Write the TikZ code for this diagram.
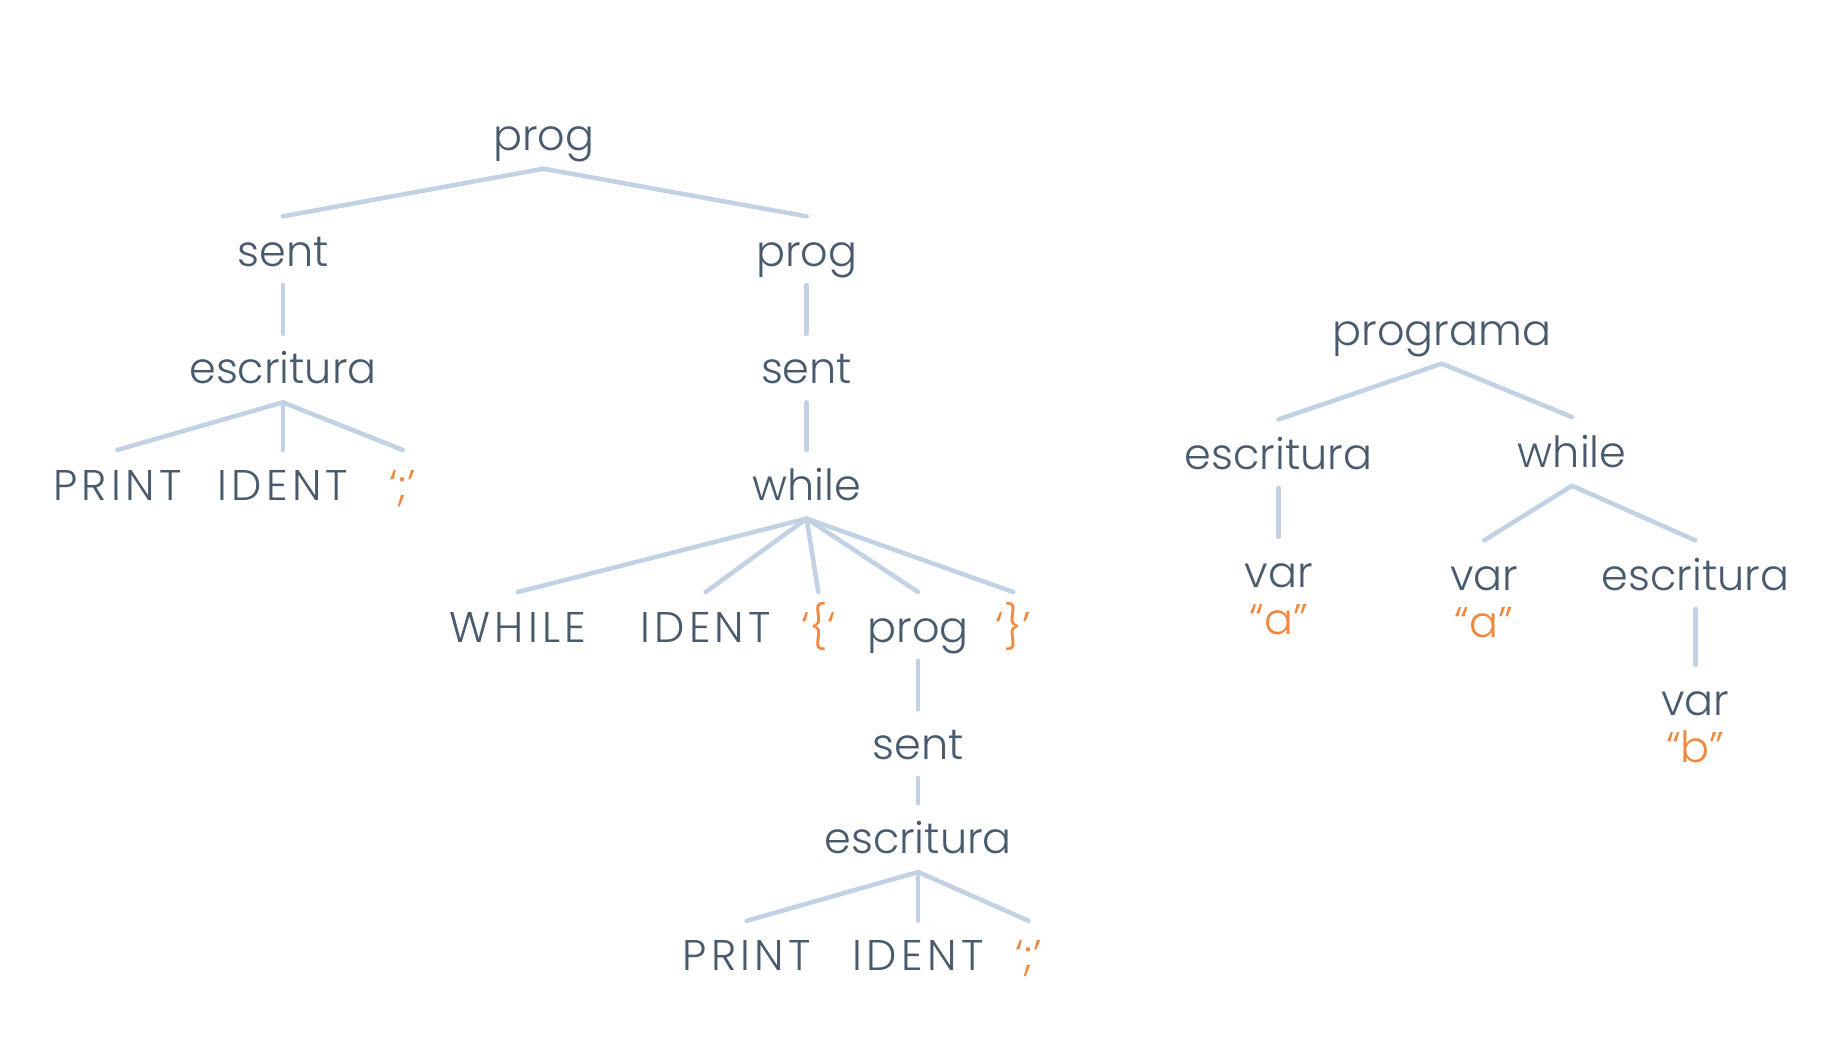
\documentclass[tikz,border=0pt]{standalone}
\usepackage{fontspec}
\setmainfont{Poppins Light}
\newfontfamily\capsfont{Poppins Light}[LetterSpace=10]
\usetikzlibrary{positioning}
\definecolor{treetext}{HTML}{4A5A6D}
\definecolor{treeline}{HTML}{C2D1E4}
\definecolor{strorange}{HTML}{F0883E}
\tikzset{%
    every tnode/.style={
        anchor=base,
        text=treetext,
        text height=0.27cm,
        text depth=0pt,
        inner xsep=0pt,
        inner ysep=0.15cm,
        font=\fontsize{10.4}{13}\selectfont
    },
    tnode str/.style={
        text=strorange
    },
    tnode str2/.style={
        text=strorange
    },
    tnode tok/.style={
        font=\fontsize{10.4}{13}\capsfont
    },
    tree edge/.style={
        draw=treeline,
        line width=1.1pt,
        line cap=round
    },
}
\begin{document}
\begin{tikzpicture}[x=0.01cm, y=-0.01cm]
        \useasboundingbox (0,0) rectangle (1568,889);

        % left tree
        \node [every tnode] (prog) at (463,128) {prog};
        \node [every tnode] (sent) at (241,227) {sent};
        \node [every tnode] (prog2) at (687,227) {prog};
        \node [every tnode] (escr) at (241,327) {escritura};
        \node [every tnode] (sent2) at (687,327) {sent};
        \node [every tnode] (while) at (687,426) {while};

        \foreach \m/\x/\l in {tok/100/PRINT,tok/241/IDENT,str/343/{‘;’}}
            \node [every tnode, tnode \m/.try] (escr-\x) at (\x,426) {\l};

        \foreach \m/\x/\l in {tok/441/WHILE,tok/601/IDENT,str/697/{‘\{‘},prog/782/prog,str2/863/{‘\}’}}
            \node [every tnode, tnode \m/.try] (while-\x) at (\x,547) {\l};

        \node [every tnode] (sent3) at (782,647) {sent};
        \node [every tnode] (escr3) at (782,727) {escritura};

        \foreach \m/\x/\l in {tok/636/PRINT,tok/782/IDENT,str/876/{‘;’}}
            \node [every tnode, tnode \m/.try] (escr3-\x) at (\x,827) {\l};

        \foreach \c in {sent,prog2}
            \draw [tree edge] (prog.south) -- (\c.north);
        \draw [tree edge] (sent.south) -- (escr.north);
        \draw [tree edge] (prog2.south) -- (sent2.north);
        \draw [tree edge] (sent2.south) -- (while.north);
        \foreach \c in {100,241,343}
            \draw [tree edge] (escr.south) -- (escr-\c.north);
        \foreach \c in {441,601,697,782,863}
            \draw [tree edge] (while.south) -- (while-\c.north);
        \draw [tree edge] (while-782.south) -- (sent3.north);
        \draw [tree edge] (sent3.south) -- (escr3.north);
        \foreach \c in {636,782,876}
            \draw [tree edge] (escr3.south) -- (escr3-\c.north);

        % right tree
        \node [every tnode] (programa) at (1228,294) {programa};
        \node [every tnode] (p-escr) at (1089,400) {escritura};
        \node [every tnode] (p-while) at (1339,398) {while};
        \node [every tnode] (var1) at (1089,500) {var};
        \node [every tnode] (var2) at (1264,503) {var};
        \node [every tnode] (w-escr) at (1444,503) {escritura};
        \node [every tnode] (var3) at (1444,609) {var};

        \foreach \v/\l [count=\i] in {var1/a,var2/a,var3/b}
            \node [every tnode, tnode str, yshift=-0.4cm] (str-\i) at (\v.base) {“\l”};

        \foreach \c in {p-escr,p-while}
            \draw [tree edge] (programa.south) -- (\c.north);
        \draw [tree edge] (p-escr.south) -- (var1.north);
        \foreach \c in {var2,w-escr}
            \draw [tree edge] (p-while.south) -- (\c.north);
        \draw [tree edge] (w-escr.south) -- (var3.north);

\end{tikzpicture}
\end{document}
